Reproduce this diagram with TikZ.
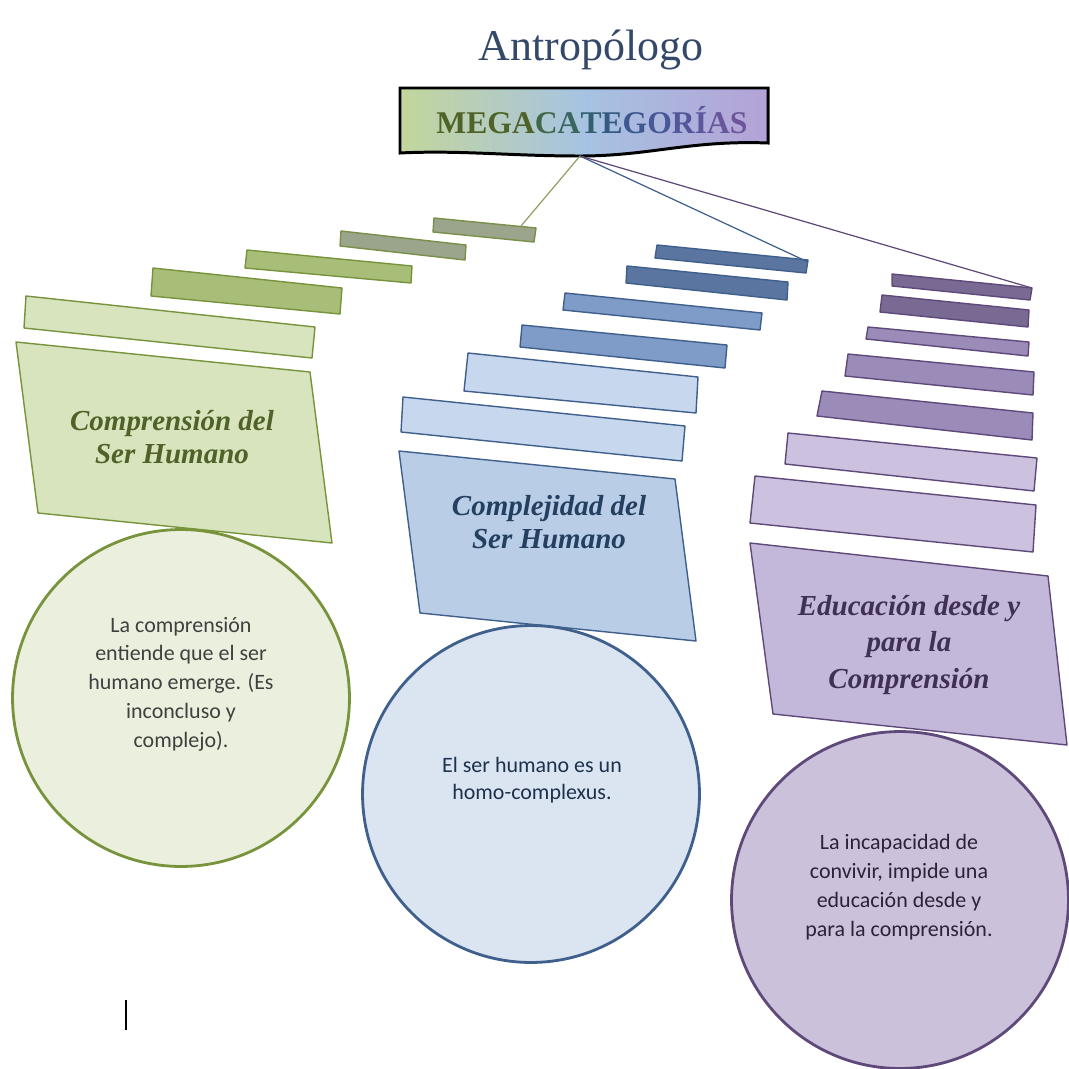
\documentclass[tikz,border=0pt]{standalone}
\usepackage{fontspec}
\setmainfont{Liberation Serif}
\newfontfamily\bodyfont{Carlito}

\definecolor{titleblue}{HTML}{34486A}
\definecolor{megaL}{HTML}{C3D69B}
\definecolor{megaM}{HTML}{A6C3E2}
\definecolor{megaR}{HTML}{B4A2D6}
% green column
\definecolor{gedge}{HTML}{77933C}
\definecolor{gbarA}{HTML}{9AA58B}
\definecolor{gbarB}{HTML}{A8BE78}
\definecolor{gbarC}{HTML}{D7E4BD}
\definecolor{gcirc}{HTML}{EAF0DD}
\definecolor{gtext}{HTML}{4F6228}
% blue column
\definecolor{bedge}{HTML}{3F5F8C}
\definecolor{bbarA}{HTML}{5A76A0}
\definecolor{bbarB}{HTML}{7F9BC8}
\definecolor{bbarC}{HTML}{C6D7EE}
\definecolor{bbarD}{HTML}{B9CDE7}
\definecolor{bcirc}{HTML}{DBE5F1}
\definecolor{btext}{HTML}{243F60}
% purple column
\definecolor{pedge}{HTML}{5F497A}
\definecolor{pbarA}{HTML}{786A92}
\definecolor{pbarB}{HTML}{9A8BB8}
\definecolor{pbarC}{HTML}{CCC1DE}
\definecolor{pbarD}{HTML}{C4B8DA}
\definecolor{pcirc}{HTML}{CCC1DA}
\definecolor{ptext}{HTML}{403152}
\definecolor{bodygray}{HTML}{404040}

\tikzset{
  bar/.style={line width=0.8pt, line join=round},
  catlabel/.style={font=\fontsize{16.5}{19}\selectfont\bfseries\itshape, align=center},
  bubble/.style={circle, minimum size=6.74cm, inner sep=0pt, line width=1.6pt},
  bubbletext/.style={font=\bodyfont\fontsize{12.5}{16.4}\selectfont, align=center, text=bodygray},
  link/.style={line width=0.7pt}
}

\begin{document}
\begin{tikzpicture}[x=0.02cm,y=-0.02cm]
    \useasboundingbox (0,0) rectangle (1069,1069);

    % title
    \node[font=\fontsize{25}{30}\selectfont, text=titleblue] (title) at (591,50) {Antropólogo};

    % megacategorias box with wavy bottom
    \shade[left color=megaL, right color=megaR, middle color=megaM]
      (400,88) -- (768,88) -- (768,143) .. controls (690,140) and (650,156) .. (580,156)
      .. controls (510,156) and (460,150) .. (400,153) -- cycle;
    \draw[line width=1.7pt]
      (400,88) -- (768,88) -- (768,143) .. controls (690,140) and (650,156) .. (580,156)
      .. controls (510,156) and (460,150) .. (400,153) -- cycle;
    \node[font=\fontsize{18}{22}\selectfont\bfseries] (mega) at (592,120)
      {\color[HTML]{4F6228}MEGA\color[HTML]{42664A}C\color[HTML]{3A6660}A\color[HTML]{345F70}T\color[HTML]{355A82}E\color[HTML]{3C5890}G\color[HTML]{465896}O\color[HTML]{52579A}R\color[HTML]{5C569C}Í\color[HTML]{66569C}A\color[HTML]{6E559A}S};

    \coordinate (hub) at (580,156);
    \coordinate (gtip) at (521,226);
    \coordinate (btip) at (808,262);
    \coordinate (ptip) at (1032,288);

    % Comprension del ser humano
    \filldraw[bar, draw=gedge!80!gray, fill=gbarA] (434,218) -- (536,228) -- (534,242) -- (433,232) -- cycle;
    \filldraw[bar, draw=gedge!80!gray, fill=gbarA] (341,231) -- (466,245) -- (465,260) -- (340,246) -- cycle;
    \filldraw[bar, draw=gedge, fill=gbarB] (247,250) -- (412,266) -- (411,283) -- (245,268) -- cycle;
    \filldraw[bar, draw=gedge, fill=gbarB] (153,268) -- (342,288) -- (340,314) -- (151,296) -- cycle;
    \filldraw[bar, draw=gedge, fill=gbarC] (26,296) -- (315,327) -- (312,358) -- (24,328) -- cycle;
    \filldraw[bar, draw=gedge, fill=gbarC] (16,342) -- (310,372) -- (332,543) -- (38,513) -- cycle;
    \node[catlabel, text=gtext] (compLbl) at (172,437) {Comprensión del\\Ser Humano};
    \node[bubble, draw=gedge, fill=gcirc] (compCirc) at (181,698) {};
    \node[bubbletext] (compTxt) at (181,684) {La comprensión\\entiende que el ser\\humano emerge. (Es\\inconcluso y\\complejo).};

    % Complejidad del ser humano
    \filldraw[bar, draw=bedge, fill=bbarA] (657,245) -- (808,260) -- (806,273) -- (655,258) -- cycle;
    \filldraw[bar, draw=bedge, fill=bbarA] (627,266) -- (788,282) -- (787,300) -- (626,283) -- cycle;
    \filldraw[bar, draw=bedge, fill=bbarB] (565,293) -- (762,313) -- (760,330) -- (563,310) -- cycle;
    \filldraw[bar, draw=bedge, fill=bbarB] (522,325) -- (727,345) -- (725,368) -- (520,347) -- cycle;
    \filldraw[bar, draw=bedge, fill=bbarC] (468,353) -- (698,377) -- (696,413) -- (464,391) -- cycle;
    \filldraw[bar, draw=bedge, fill=bbarC] (403,397) -- (685,426) -- (682,461) -- (401,432) -- cycle;
    \filldraw[bar, draw=bedge, fill=bbarD] (399,451) -- (675,479) -- (696,641) -- (420,613) -- cycle;
    \node[catlabel, text=btext] (complLbl) at (549,522) {Complejidad del\\Ser Humano};
    \node[bubble, draw=bedge, fill=bcirc] (complCirc) at (531,794) {};
    \node[bubbletext, font=\bodyfont\fontsize{12.5}{15.1}\selectfont, text=btext!80!black] (complTxt) at (532,780) {El ser humano es un\\homo-complexus.};

    % Educacion desde y para la comprension
    \filldraw[bar, draw=pedge, fill=pbarA] (892,274) -- (1032,288) -- (1030,300) -- (892,286) -- cycle;
    \filldraw[bar, draw=pedge, fill=pbarA] (882,295) -- (1029,310) -- (1028,327) -- (880,312) -- cycle;
    \filldraw[bar, draw=pedge, fill=pbarB] (868,327) -- (1029,342) -- (1028,356) -- (866,339) -- cycle;
    \filldraw[bar, draw=pedge, fill=pbarB] (848,354) -- (1034,372) -- (1033,395) -- (845,376) -- cycle;
    \filldraw[bar, draw=pedge, fill=pbarB] (822,391) -- (1033,413) -- (1032,440) -- (817,416) -- cycle;
    \filldraw[bar, draw=pedge, fill=pbarC] (788,433) -- (1037,458) -- (1034,491) -- (785,464) -- cycle;
    \filldraw[bar, draw=pedge, fill=pbarC] (755,476) -- (1036,505) -- (1033,552) -- (750,523) -- cycle;
    \filldraw[bar, draw=pedge, fill=pbarD] (750,543) -- (1048,576) -- (1067,745) -- (773,714) -- cycle;
    \node[catlabel, text=ptext, font=\fontsize{16.5}{21}\selectfont\bfseries\itshape] (eduLbl) at (909,645) {Educación desde y\\para la\\Comprensión};
    \node[bubble, draw=pedge, fill=pcirc] (eduCirc) at (900,900) {};
    \node[bubbletext, text=ptext!70!black] (eduTxt) at (899,887) {La incapacidad de\\convivir, impide una\\educación desde y\\para la comprensión.};

    % links from the box
    \draw[link, draw=gbarB!85!black] (hub) -- (gtip);
    \draw[link, draw=bedge] (hub) -- (btip);
    \draw[link, draw=pedge] (hub) -- (ptip);

    % text cursor
    \draw[line width=1pt] (126,1000) -- (126,1030);
  \end{tikzpicture}
\end{document}
